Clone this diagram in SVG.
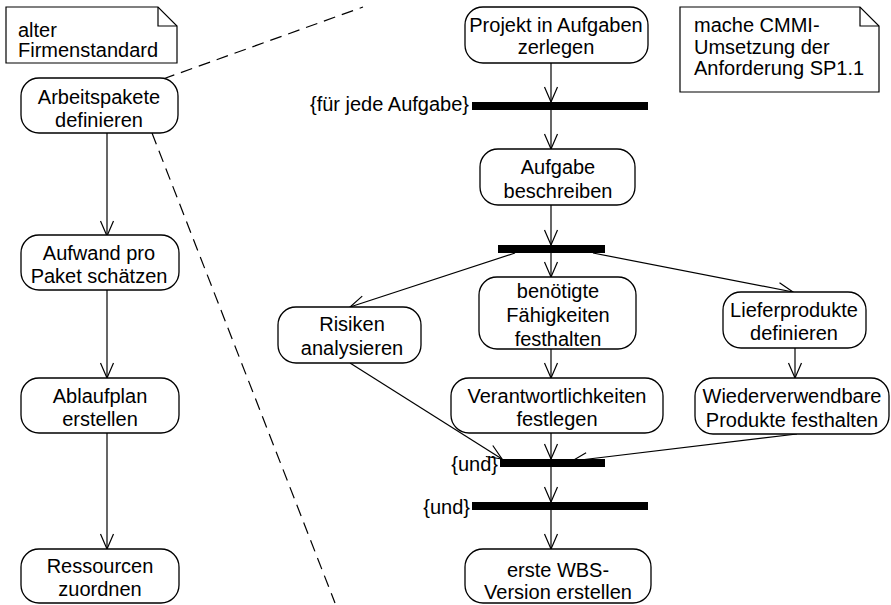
<svg xmlns="http://www.w3.org/2000/svg" width="891" height="605" viewBox="0 0 891 605">
<defs>
<style>
.box{fill:#fff;stroke:#000;stroke-width:1.3}
.note{fill:#fff;stroke:#000;stroke-width:1.2}
.t{font-family:"Liberation Sans",Arial,sans-serif;font-size:20px;fill:#000}
.c{text-anchor:middle}
.e{text-anchor:end}
.ln{fill:none;stroke:#000;stroke-width:1.2}
.dash{fill:none;stroke:#000;stroke-width:1.2;stroke-dasharray:12 7}
.bar{fill:#000}
</style>
<marker id="arr" viewBox="-16 -8 18 16" refX="0" refY="0" markerWidth="18" markerHeight="16" markerUnits="userSpaceOnUse" orient="auto" overflow="visible">
<path d="M-15,-6.5 L0,0 L-15,6.5" fill="none" stroke="#000" stroke-width="1.2"/>
</marker>
</defs>
<rect width="891" height="605" fill="#fff"/>

<g id="connectors">
<line class="dash" x1="163" y1="79" x2="363" y2="7"/>
<line class="dash" x1="152" y1="133" x2="335" y2="603"/>
<line class="ln" x1="107" y1="133" x2="107" y2="236" marker-end="url(#arr)"/>
<line class="ln" x1="107" y1="290" x2="107" y2="378" marker-end="url(#arr)"/>
<line class="ln" x1="107" y1="432" x2="107" y2="549" marker-end="url(#arr)"/>
<line class="ln" x1="551" y1="63" x2="551" y2="102" marker-end="url(#arr)"/>
<line class="ln" x1="551" y1="110" x2="551" y2="149" marker-end="url(#arr)"/>
<line class="ln" x1="551" y1="205" x2="551" y2="245" marker-end="url(#arr)"/>
<line class="ln" x1="515" y1="253" x2="350" y2="307" marker-end="url(#arr)"/>
<line class="ln" x1="551" y1="253" x2="551" y2="277" marker-end="url(#arr)"/>
<line class="ln" x1="593" y1="253" x2="793" y2="292" marker-end="url(#arr)"/>
<line class="ln" x1="551" y1="349" x2="551" y2="378" marker-end="url(#arr)"/>
<line class="ln" x1="795" y1="348" x2="795" y2="378" marker-end="url(#arr)"/>
<line class="ln" x1="350" y1="363" x2="502" y2="459" marker-end="url(#arr)"/>
<line class="ln" x1="551" y1="433" x2="551" y2="459" marker-end="url(#arr)"/>
<line class="ln" x1="797" y1="434" x2="572" y2="461" marker-end="url(#arr)"/>
<line class="ln" x1="551" y1="467" x2="551" y2="502" marker-end="url(#arr)"/>
<line class="ln" x1="551" y1="510" x2="551" y2="549" marker-end="url(#arr)"/>
</g>

<g id="note-alter">
<path class="note" d="M6,7 H158 L177,26 V63 H6 Z"/>
<path class="ln" d="M158,7 V26 H177"/>
<text class="t" x="18" y="37">alter</text>
<text class="t" x="18" y="57">Firmenstandard</text>
</g>

<g id="note-cmmi">
<path class="note" d="M680,7 H860 L879,26 V92 H680 Z"/>
<path class="ln" d="M860,7 V26 H879"/>
<text class="t" x="694" y="32">mache CMMI-</text>
<text class="t" x="694" y="54">Umsetzung der</text>
<text class="t" x="694" y="75">Anforderung SP1.1</text>
</g>

<g id="arbeitspakete">
<rect class="box" x="21" y="78" width="157" height="55" rx="18"/>
<text class="t c" x="99" y="104">Arbeitspakete</text>
<text class="t c" x="99" y="127">definieren</text>
</g>
<g id="aufwand">
<rect class="box" x="21" y="235" width="158" height="55" rx="18"/>
<text class="t c" x="99" y="260">Aufwand pro</text>
<text class="t c" x="99" y="283">Paket schätzen</text>
</g>
<g id="ablaufplan">
<rect class="box" x="21" y="378" width="158" height="55" rx="18"/>
<text class="t c" x="100" y="403">Ablaufplan</text>
<text class="t c" x="100" y="426">erstellen</text>
</g>
<g id="ressourcen">
<rect class="box" x="21" y="549" width="158" height="54" rx="18"/>
<text class="t c" x="100" y="573">Ressourcen</text>
<text class="t c" x="100" y="596">zuordnen</text>
</g>

<g id="projekt">
<rect class="box" x="465" y="7" width="183" height="56" rx="18"/>
<text class="t c" x="556" y="32">Projekt in Aufgaben</text>
<text class="t c" x="556" y="54">zerlegen</text>
</g>
<g id="fork1">
<rect class="bar" x="472" y="102" width="176" height="8"/>
<text class="t e" x="469" y="111">{für jede Aufgabe}</text>
</g>
<g id="aufgabe">
<rect class="box" x="480" y="149" width="155" height="56" rx="18"/>
<text class="t c" x="558" y="174">Aufgabe</text>
<text class="t c" x="558" y="198">beschreiben</text>
</g>
<g id="fork2">
<rect class="bar" x="498" y="245" width="107" height="8"/>
</g>
<g id="risiken">
<rect class="box" x="278" y="307" width="143" height="56" rx="18"/>
<text class="t c" x="352" y="331">Risiken</text>
<text class="t c" x="352" y="355">analysieren</text>
</g>
<g id="faehigkeiten">
<rect class="box" x="479" y="277" width="157" height="72" rx="18"/>
<text class="t c" x="558" y="298">benötigte</text>
<text class="t c" x="558" y="322">Fähigkeiten</text>
<text class="t c" x="558" y="346">festhalten</text>
</g>
<g id="lieferprodukte">
<rect class="box" x="723" y="292" width="143" height="56" rx="18"/>
<text class="t c" x="794" y="317">Lieferprodukte</text>
<text class="t c" x="794" y="340">definieren</text>
</g>
<g id="verantwortlichkeiten">
<rect class="box" x="451" y="378" width="212" height="55" rx="18"/>
<text class="t c" x="557" y="403">Verantwortlichkeiten</text>
<text class="t c" x="557" y="426">festlegen</text>
</g>
<g id="wiederverwendbare">
<rect class="box" x="695" y="378" width="194" height="56" rx="18"/>
<text class="t c" x="792" y="403">Wiederverwendbare</text>
<text class="t c" x="792" y="427">Produkte festhalten</text>
</g>
<g id="join1">
<rect class="bar" x="500" y="459" width="105" height="8"/>
<text class="t e" x="498" y="471">{und}</text>
</g>
<g id="join2">
<rect class="bar" x="472" y="502" width="176" height="8"/>
<text class="t e" x="470" y="514">{und}</text>
</g>
<g id="wbs">
<rect class="box" x="465" y="549" width="186" height="54" rx="18"/>
<text class="t c" x="558" y="577">erste WBS-</text>
<text class="t c" x="558" y="599">Version erstellen</text>
</g>
</svg>
